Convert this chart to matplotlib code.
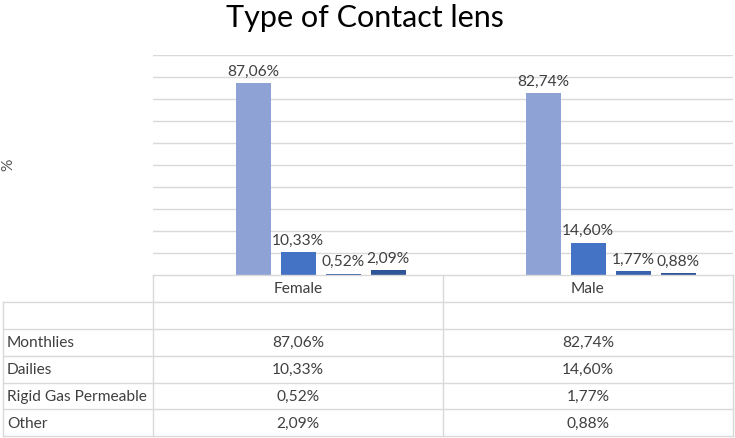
import matplotlib.pyplot as plt
import numpy as np

plt.rcParams['font.family'] = ['Lato', 'DejaVu Sans']

# données
groups = ["Female", "Male"]
series = ["", "Monthlies", "Dailies", "Rigid Gas Permeable", "Other"]
female = [np.nan, 87.06, 10.33, 0.52, 2.09]
male = [np.nan, 82.74, 14.60, 1.77, 0.88]
colors = ["#FFFFFF", "#8EA2D5", "#4472C4", "#3861AE", "#2F5597"]

def fmt(v):
    return ("%.2f%%" % v).replace(".", ",")

W, H = 735, 439
fig = plt.figure(figsize=(W / 100, H / 100), dpi=100)

# zone du graphique (en pixels)
left, right, top, bottom = 153, 733, 56, 276
ax = fig.add_axes([left / W, 1 - bottom / H, (right - left) / W, (bottom - top) / H])
ax.set_xlim(-0.5, 1.5)
ax.set_ylim(0, 100)
for s in ax.spines.values():
    s.set_visible(False)
ax.set_xticks([])
ax.set_yticks(np.arange(10, 101, 10))
ax.tick_params(axis='y', length=0, labelleft=False)
ax.yaxis.grid(True, color="#D9D9D9", lw=1)
ax.set_axisbelow(True)

slot = 45 / 290
bw = 35 / 290
x = np.arange(len(groups))
for i, name in enumerate(series):
    if name == "":
        continue
    vals = [female[i], male[i]]
    bars = ax.bar(x + (i - 2) * slot, vals, bw, color=colors[i])
    for b, v in zip(bars, vals):
        ax.annotate(fmt(v), (b.get_x() + b.get_width() / 2, v), xytext=(0, 4),
                    textcoords="offset points", ha="center", va="bottom",
                    fontsize=11.2, color="#404040")

# titre et label
fig.text(365 / W, 1 - 18 / H, "Type of Contact lens", ha="center", va="center",
         fontsize=22, color="#000000")
fig.text(8 / W, 1 - 165 / H, "%", rotation=90, ha="center", va="center",
         fontsize=11.2, color="#595959")

# tableau de données
tb = fig.add_axes([0, 0, 1, 1], facecolor="none")
tb.set_xlim(0, W)
tb.set_ylim(H, 0)
tb.axis("off")
lc = "#D9D9D9"
cols = [3, 153, 443, 733]
rows = [276, 302.5, 329.5, 356.5, 383.5, 410.5, 437.5]
tb.plot([cols[1], cols[3]], [rows[0], rows[0]], color=lc, lw=1)
for r in rows[1:]:
    tb.plot([cols[0], cols[3]], [r, r], color=lc, lw=1)
for c in cols[1:]:
    tb.plot([c, c], [rows[0], rows[-1]], color=lc, lw=1)
tb.plot([cols[0], cols[0]], [rows[1], rows[-1]], color=lc, lw=1)

tc = "#404040"
for j, g in enumerate(groups):
    tb.text((cols[j + 1] + cols[j + 2]) / 2, (rows[0] + rows[1]) / 2, g,
            ha="center", va="center", fontsize=11.2, color=tc)
for i, name in enumerate(series):
    yc = (rows[i + 1] + rows[i + 2]) / 2
    tb.text(cols[0] + 4, yc, name, ha="left", va="center", fontsize=11.2, color=tc)
    for j, vals in enumerate([female, male]):
        if not np.isnan(vals[i]):
            tb.text((cols[j + 1] + cols[j + 2]) / 2, yc, fmt(vals[i]),
                    ha="center", va="center", fontsize=11.2, color=tc)

fig.savefig("out.png", dpi=100)
